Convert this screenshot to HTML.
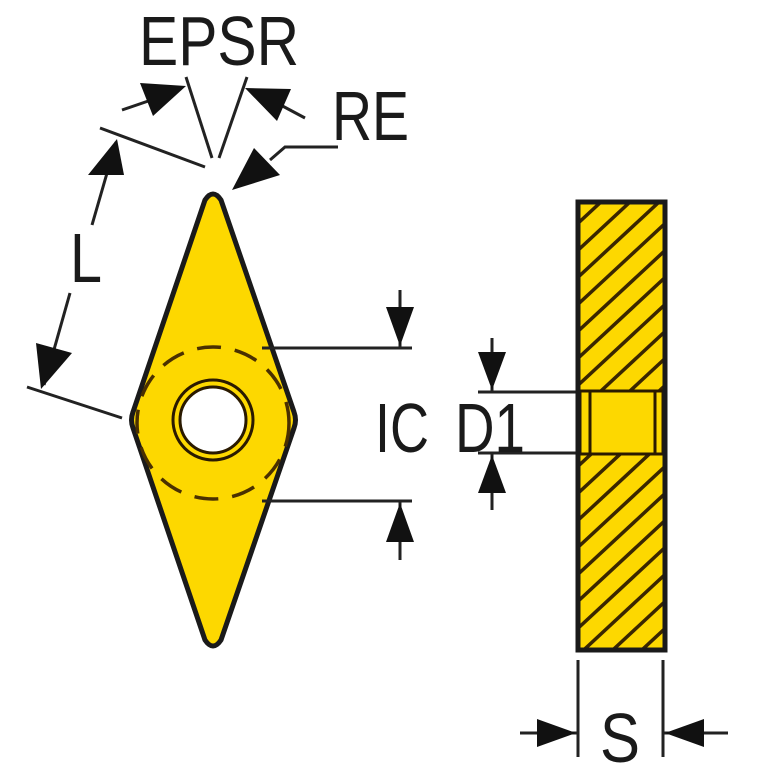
<!DOCTYPE html>
<html><head><meta charset="utf-8"><style>html,body{margin:0;padding:0;background:#fff}svg{display:block}</style></head>
<body>
<svg width="767" height="767" viewBox="0 0 767 767" xmlns="http://www.w3.org/2000/svg" font-family="Liberation Sans, sans-serif">
<defs>
<clipPath id="dia"><path d="M205,200 Q213,188 221,200 L294,412 Q297,420 294,428 L221,640 Q213,652 205,640 L133,428 Q130,420 133,412 Z"/></clipPath>
<clipPath id="rc"><rect x="578" y="202" width="87" height="448"/></clipPath>
</defs>
<g stroke="#222" stroke-width="3" fill="#111">
<path d="M205,200 Q213,188 221,200 L294,412 Q297,420 294,428 L221,640 Q213,652 205,640 L133,428 Q130,420 133,412 Z" fill="#fdd800" stroke="#1a1a1a" stroke-width="5"/>
<g clip-path="url(#dia)"><circle cx="213" cy="423" r="76" fill="none" stroke="#4a3000" stroke-width="3.5" stroke-dasharray="24,14"/></g>
<circle cx="213" cy="420" r="40" fill="none" stroke="#2a1a00" stroke-width="3"/>
<circle cx="213" cy="420" r="33" fill="#fff" stroke="#2a1a00" stroke-width="3"/>
<line x1="262" y1="348" x2="412" y2="348"/><line x1="262" y1="501" x2="412" y2="501"/>
<line x1="400" y1="290" x2="400" y2="348"/><path d="M386,307 L414,307 L400,346 Z" stroke="none"/>
<line x1="400" y1="501" x2="400" y2="560"/><path d="M386,542 L414,542 L400,503 Z" stroke="none"/>
<line x1="478" y1="392" x2="580" y2="392"/><line x1="478" y1="453" x2="580" y2="453"/>
<line x1="492" y1="338" x2="492" y2="392"/><path d="M478,352 L506,352 L492,390 Z" stroke="none"/>
<line x1="492" y1="453" x2="492" y2="510"/><path d="M478,493 L506,493 L492,455 Z" stroke="none"/>
<rect x="578" y="202" width="87" height="448" fill="#fdd800" stroke="none"/>
<g clip-path="url(#rc)" stroke="#3a2600" stroke-width="3.5">
<line x1="560" y1="240" x2="700" y2="110"/><line x1="560" y1="267" x2="700" y2="137"/><line x1="560" y1="294" x2="700" y2="164"/><line x1="560" y1="321" x2="700" y2="191"/><line x1="560" y1="348" x2="700" y2="218"/><line x1="560" y1="375" x2="700" y2="245"/><line x1="560" y1="402" x2="700" y2="272"/><line x1="560" y1="429" x2="700" y2="299"/><line x1="560" y1="456" x2="700" y2="326"/><line x1="560" y1="483" x2="700" y2="353"/><line x1="560" y1="510" x2="700" y2="380"/><line x1="560" y1="537" x2="700" y2="407"/><line x1="560" y1="564" x2="700" y2="434"/><line x1="560" y1="591" x2="700" y2="461"/><line x1="560" y1="618" x2="700" y2="488"/><line x1="560" y1="645" x2="700" y2="515"/><line x1="560" y1="672" x2="700" y2="542"/><line x1="560" y1="699" x2="700" y2="569"/><line x1="560" y1="726" x2="700" y2="596"/><line x1="560" y1="753" x2="700" y2="623"/>
</g>
<rect x="580" y="391" width="83" height="63" fill="#fdd800" stroke="#2a1a00" stroke-width="3"/>
<rect x="590" y="391" width="65" height="63" fill="#fdd800" stroke="#2a1a00" stroke-width="3"/>
<rect x="578" y="202" width="87" height="448" fill="none" stroke="#1a1a1a" stroke-width="5"/>
<line x1="578" y1="660" x2="578" y2="757"/><line x1="663" y1="660" x2="663" y2="757"/>
<line x1="520" y1="733" x2="578" y2="733"/><path d="M537,719 L537,747 L576,733 Z" stroke="none"/>
<line x1="663" y1="733" x2="728" y2="733"/><path d="M704,719 L704,747 L665,733 Z" stroke="none"/>
<line x1="100" y1="128" x2="205" y2="167"/>
<line x1="27" y1="387" x2="122" y2="418"/>
<line x1="92" y1="225" x2="116" y2="142"/><path d="M88,175 L124,175 L117,139 Z" stroke="none"/>
<line x1="70" y1="293" x2="44" y2="385"/><path d="M36,343 L72,353 L41,389 Z" stroke="none"/>
<line x1="186" y1="77" x2="212" y2="158"/><line x1="247" y1="77" x2="219" y2="158"/>
<line x1="122" y1="110" x2="160" y2="97"/><path d="M140,83 L186,86 L153,116 Z" stroke="none"/>
<line x1="305" y1="118" x2="275" y2="102"/><path d="M245,88 L291,89 L277,121 Z" stroke="none"/>
<polyline points="338,147 285,147 270,160" fill="none"/><path d="M232,190 L254,148 L280,175 Z" stroke="none"/>
</g>
<g fill="#1a1a1a" font-size="70">
<text x="139" y="65" textLength="160" lengthAdjust="spacingAndGlyphs">EPSR</text>
<text x="332" y="140" textLength="77" lengthAdjust="spacingAndGlyphs">RE</text>
<text x="70" y="282" textLength="32" lengthAdjust="spacingAndGlyphs">L</text>
<text x="375" y="452" textLength="54" lengthAdjust="spacingAndGlyphs">IC</text>
<text x="455" y="452" textLength="70" lengthAdjust="spacingAndGlyphs">D1</text>
<text x="600" y="762" textLength="40" lengthAdjust="spacingAndGlyphs">S</text>
</g>
</svg>
</body></html>
